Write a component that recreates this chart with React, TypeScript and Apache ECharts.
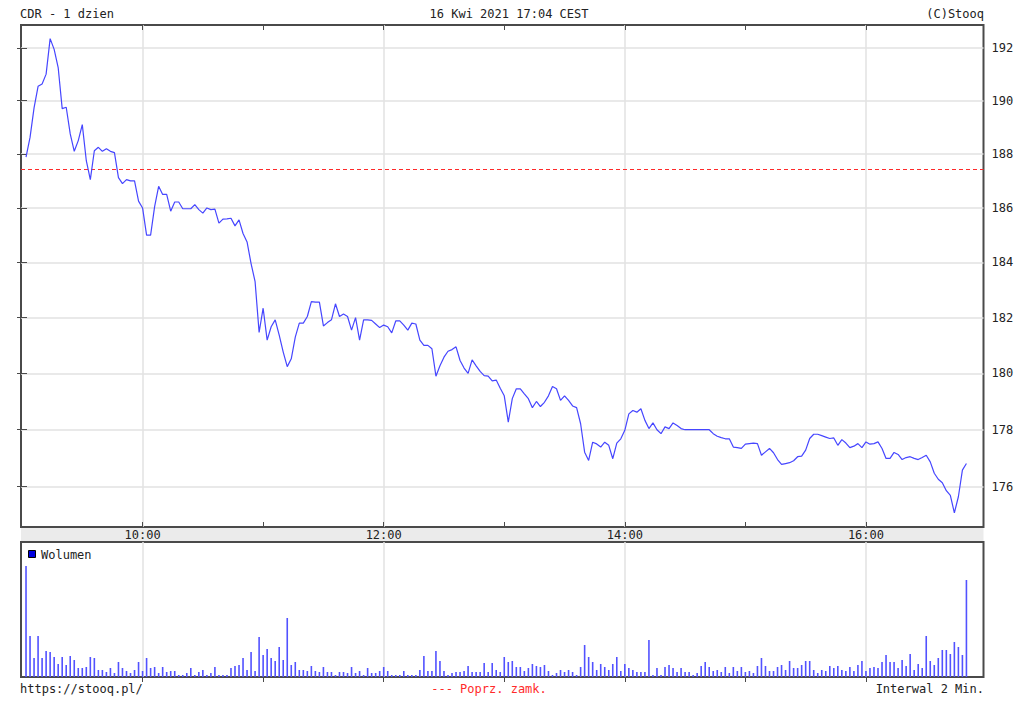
import React, { useEffect, useRef } from "react";
import * as echarts from "echarts";

// ---- texts ----
const TITLE_LEFT = "CDR - 1 dzien";
const TITLE_CENTER = "16 Kwi 2021 17:04 CEST";
const TITLE_RIGHT = "(C)Stooq";
const FOOT_LEFT = "https://stooq.pl/";
const FOOT_CENTER = "--- Poprz. zamk.";
const FOOT_RIGHT = "Interwal 2 Min.";
const LEGEND_LABEL = "Wolumen";

// ---- time axis (minutes after 09:00) ----
const SESSION_START_HOUR = 9;
const FIRST_MINUTE = 2;
const INTERVAL_MIN = 2;
const X_MIN = -0.5;
const X_MAX = 478.5;
const HOUR_TICKS = [60, 120, 180, 240, 300, 360, 420];
const LABEL_TICKS = [60, 180, 300, 420];

// ---- price axis ----
const PRICE_TICKS = [176, 178, 180, 182, 184, 186, 188, 190, 192];
const PRICE_MIN = 174.6;
const PRICE_MAX = 192.87;
const PREV_CLOSE = 187.42;

// ---- volume axis ----
const VOLUME_MAX = 135;

// ---- data ----
const prices = [
  187.88, 188.62, 189.73, 190.54, 190.63, 191.0, 192.35, 191.94, 191.25, 189.7,
  189.75, 188.75, 188.1, 188.5, 189.1, 187.75, 187.05, 188.12, 188.25, 188.1,
  188.2, 188.1, 188.05, 187.12, 186.9, 187.05, 187.0, 187.0, 186.25, 186.0,
  185.0, 185.0, 186.05, 186.8, 186.5, 186.5, 185.88, 186.22, 186.22, 185.97,
  185.97, 185.97, 186.12, 185.94, 185.81, 186.0, 185.94, 185.96, 185.44, 185.59,
  185.6, 185.62, 185.34, 185.56, 185.06, 184.75, 183.96, 183.3, 181.47, 182.34,
  181.19, 181.67, 181.92, 181.37, 180.76, 180.24, 180.52, 181.3, 181.8, 181.8,
  182.04, 182.58, 182.56, 182.56, 181.7, 181.82, 181.92, 182.5, 182.04, 182.13,
  182.04, 181.55, 182.0, 181.19, 181.92, 181.92, 181.9, 181.77, 181.64, 181.73,
  181.67, 181.45, 181.88, 181.88, 181.73, 181.55, 181.8, 181.77, 181.19, 181.0,
  181.0, 180.88, 179.9, 180.27, 180.58, 180.79, 180.85, 180.95, 180.46, 180.19,
  180.0, 180.48, 180.27, 180.07, 179.92, 179.9, 179.73, 179.76, 179.47, 179.2,
  178.27, 179.1, 179.45, 179.45, 179.27, 179.1, 178.78, 179.0, 178.82, 178.97,
  179.2, 179.53, 179.45, 179.04, 179.2, 179.04, 178.84, 178.78, 178.21, 177.21,
  176.92, 177.56, 177.5, 177.39, 177.56, 177.45, 176.98, 177.53, 177.68, 177.98,
  178.56, 178.68, 178.62, 178.74, 178.33, 178.04, 178.24, 178.0, 177.86, 178.1,
  178.04, 178.24, 178.15, 178.04, 178.0, 178.0, 178.0, 178.0, 178.0, 178.0,
  178.0, 177.86, 177.77, 177.72, 177.68, 177.68, 177.39, 177.37, 177.34, 177.49,
  177.51, 177.53, 177.51, 177.1, 177.22, 177.34, 177.19, 176.95, 176.78, 176.81,
  176.84, 176.91, 177.05, 177.07, 177.28, 177.69, 177.84, 177.84, 177.79, 177.74,
  177.69, 177.71, 177.45, 177.65, 177.53, 177.37, 177.42, 177.51, 177.37, 177.57,
  177.49, 177.51, 177.57, 177.34, 176.99, 176.99, 177.2, 177.13, 176.95, 177.02,
  177.05, 176.99, 176.95, 177.02, 177.1, 176.87, 176.47, 176.26, 176.14, 175.86,
  175.7, 175.09, 175.65, 176.58, 176.81,
];

const volumes = [
  111, 41, 19, 41, 19, 26, 25, 20, 13, 20,
  12, 21, 17, 9, 9, 10, 20, 19, 7, 7,
  5, 9, 4, 15, 9, 6, 4, 7, 15, 6,
  19, 9, 10, 4, 10, 5, 6, 6, 2, 2,
  4, 9, 2, 5, 7, 2, 4, 10, 2, 2,
  2, 9, 11, 12, 19, 7, 25, 6, 40, 22,
  28, 19, 16, 30, 17, 59, 12, 15, 7, 7,
  6, 11, 6, 5, 10, 5, 5, 2, 5, 5,
  4, 10, 4, 6, 2, 9, 4, 4, 6, 10,
  6, 2, 2, 2, 6, 2, 2, 2, 7, 21,
  6, 6, 26, 16, 6, 2, 4, 5, 5, 6,
  11, 5, 5, 5, 14, 5, 14, 7, 5, 20,
  15, 16, 10, 10, 6, 9, 13, 11, 10, 12,
  6, 2, 4, 7, 5, 7, 5, 2, 10, 32,
  20, 15, 7, 13, 10, 7, 13, 20, 6, 13,
  9, 7, 5, 5, 5, 37, 2, 9, 2, 10,
  12, 9, 5, 9, 5, 5, 2, 4, 11, 15,
  10, 6, 7, 5, 10, 4, 10, 6, 10, 5,
  6, 4, 11, 19, 11, 6, 6, 10, 12, 7,
  16, 9, 9, 12, 16, 16, 7, 4, 7, 6,
  11, 9, 11, 7, 6, 10, 6, 12, 16, 6,
  9, 10, 9, 15, 22, 15, 15, 9, 17, 11,
  23, 7, 13, 9, 41, 16, 12, 19, 27, 27,
  23, 35, 30, 22, 97,
];

// category positions: one per 2-minute interval
const times = prices.map((_, i) => FIRST_MINUTE + i * INTERVAL_MIN);

// ---- styles ----
const FONT = '"DejaVu Sans Mono", monospace';
const TEXT = "#222222";
const FRAME = "#4a4a4a";
const GRIDC = "#e2e2e2";
const LINEC = "#4646ff";
const BARC = "#5252ff";
const RED = "#ff2a2a";

const fmtTime = (m: number) => {
  const t = SESSION_START_HOUR * 60 + Math.round(m);
  const h = Math.floor(t / 60);
  const mm = t % 60;
  return `${h}:${String(mm).padStart(2, "0")}`;
};

const hidden = {
  type: "value",
  min: X_MIN,
  max: X_MAX,
  axisLine: { show: false },
  axisLabel: { show: false },
  axisTick: { show: false },
  splitLine: { show: false },
};

const tickStyle = { show: true, inside: true, length: 5, lineStyle: { color: FRAME, width: 1 } };

const txt = (text: string, x: number, y: number, align: string, color = TEXT) => ({
  type: "text",
  x,
  y,
  silent: true,
  style: {
    text,
    fill: color,
    fontFamily: FONT,
    fontSize: 12,
    align,
    verticalAlign: "middle",
  },
});

const GL = 21;
const GW = 962.5;

const option: any = {
  animation: false,
  backgroundColor: "#ffffff",
  grid: [
    { left: GL, top: 25, width: GW, height: 502, show: true, borderColor: FRAME, borderWidth: 2, backgroundColor: "transparent" },
    { left: GL, top: 542, width: GW, height: 135, show: true, borderColor: FRAME, borderWidth: 2, backgroundColor: "transparent" },
  ],
  xAxis: [
    {
      ...hidden,
      gridIndex: 0,
      position: "bottom",
      axisTick: { ...tickStyle, customValues: HOUR_TICKS },
      axisLabel: {
        show: true,
        customValues: LABEL_TICKS,
        margin: 2,
        formatter: (v: number) => fmtTime(v),
        fontFamily: FONT,
        fontSize: 12,
        color: TEXT,
      },
    },
    { ...hidden, gridIndex: 0, position: "top", axisTick: { ...tickStyle, customValues: HOUR_TICKS } },
    {
      ...hidden,
      gridIndex: 0,
      position: "bottom",
      axisTick: { show: false, customValues: LABEL_TICKS },
      splitLine: { show: true, lineStyle: { color: GRIDC, width: 1.5 } },
    },
    { ...hidden, gridIndex: 1, position: "top", axisTick: { ...tickStyle, customValues: HOUR_TICKS } },
    {
      ...hidden,
      gridIndex: 1,
      position: "bottom",
      axisTick: { show: false, customValues: LABEL_TICKS },
      splitLine: { show: true, lineStyle: { color: GRIDC, width: 1.5 } },
    },
  ],
  yAxis: [
    {
      type: "log",
      gridIndex: 0,
      position: "right",
      min: PRICE_MIN,
      max: PRICE_MAX,
      axisLine: { show: false },
      axisTick: { ...tickStyle, customValues: PRICE_TICKS },
      axisLabel: {
        show: true,
        customValues: PRICE_TICKS,
        margin: 8,
        formatter: (v: number) => String(Math.round(v)),
        fontFamily: FONT,
        fontSize: 12,
        color: TEXT,
      },
      splitLine: { show: true, lineStyle: { color: GRIDC, width: 1.5 } },
    },
    {
      type: "log",
      gridIndex: 0,
      position: "left",
      min: PRICE_MIN,
      max: PRICE_MAX,
      axisLine: { show: false },
      axisTick: { ...tickStyle, customValues: PRICE_TICKS },
      axisLabel: { show: false },
      splitLine: { show: false },
    },
    {
      type: "value",
      gridIndex: 1,
      min: 0,
      max: VOLUME_MAX,
      axisLine: { show: false },
      axisTick: { show: false },
      axisLabel: { show: false },
      splitLine: { show: false },
    },
  ],
  series: [
    {
      type: "line",
      xAxisIndex: 0,
      yAxisIndex: 0,
      data: prices.map((p, i) => [times[i], p]),
      showSymbol: false,
      symbol: "none",
      lineStyle: { color: LINEC, width: 1.2 },
      itemStyle: { color: LINEC },
      z: 5,
      markLine: {
        silent: true,
        symbol: ["none", "none"],
        label: { show: false },
        emphasis: { disabled: true },
        lineStyle: { color: RED, type: [4, 3], width: 1.2, opacity: 1 },
        data: [{ yAxis: PREV_CLOSE, lineStyle: { color: RED, type: [4, 3], width: 1.2 } }],
      },
    },
    {
      type: "bar",
      xAxisIndex: 3,
      yAxisIndex: 2,
      data: volumes.map((v, i) => [times[i], v]),
      barWidth: 1.6,
      itemStyle: { color: BARC },
      z: 5,
    },
  ],
  graphic: [
    { type: "rect", z: -1, silent: true, shape: { x: GL, y: 527, width: GW, height: 15 }, style: { fill: "#ebebeb" } },
    { type: "rect", z: 10, silent: true, shape: { x: 28.5, y: 550.5, width: 7, height: 7 }, style: { fill: "#0000e0", stroke: "#000000", lineWidth: 1 } },
    txt(LEGEND_LABEL, 41, 554.5, "left"),
    txt(TITLE_LEFT, 20, 13.5, "left"),
    txt(TITLE_CENTER, 509, 13.5, "center"),
    txt(TITLE_RIGHT, 984, 13.5, "right"),
    txt(FOOT_LEFT, 20, 689, "left"),
    txt(FOOT_CENTER, 489, 689, "center", RED),
    txt(FOOT_RIGHT, 984, 689, "right"),
  ],
};

export default function App() {
  const ref = useRef<HTMLDivElement>(null);
  useEffect(() => {
    document.body.style.margin = "0";
    const chart = echarts.init(ref.current!, null, { renderer: "svg" });
    chart.setOption(option);
    return () => chart.dispose();
  }, []);
  return <div ref={ref} style={{ width: 1024, height: 704, background: "#ffffff" }} />;
}
